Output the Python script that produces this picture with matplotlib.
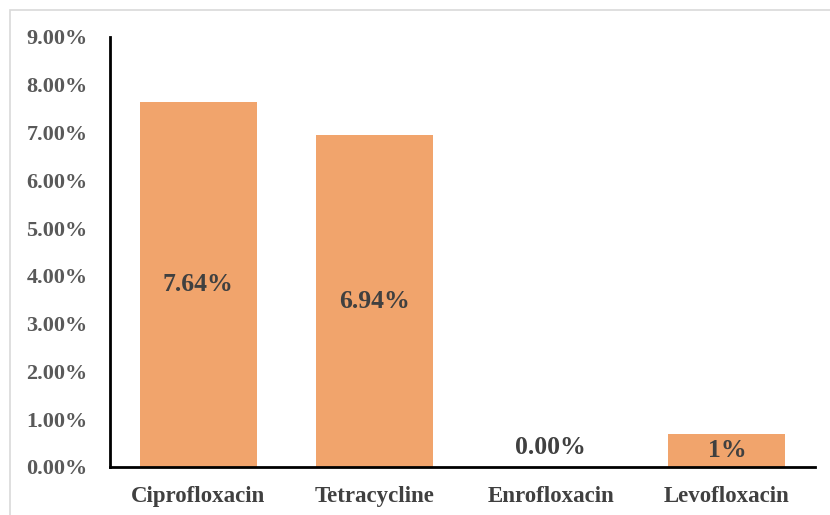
import matplotlib.pyplot as plt
from matplotlib.patches import Rectangle
from matplotlib.ticker import PercentFormatter

# Resistance rates per antibiotic
drugs = ["Ciprofloxacin", "Tetracycline", "Enrofloxacin", "Levofloxacin"]
rates = [7.64, 6.94, 0.00, 0.69]
label_decimals = [2, 2, 2, 0]
y_ticks = [0, 1, 2, 3, 4, 5, 6, 7, 8, 9]

bar_color = "#F1A46C"
tick_color = "#595959"
label_color = "#404040"

plt.rcParams["font.family"] = ["Liberation Serif", "DejaVu Serif"]
plt.rcParams["font.weight"] = "bold"

fig = plt.figure(figsize=(8.3, 5.15), dpi=100)
ax = fig.add_axes([110 / 830, 48 / 515, 705 / 830, 430 / 515])

# light grey frame around the chart area
fig.patches.append(Rectangle((10 / 830, -0.1), 1.2, (505 / 515) + 0.1,
                             transform=fig.transFigure, fill=False,
                             edgecolor="#D9D9D9", linewidth=1.2))

x = list(range(len(drugs)))
bars = ax.bar(x, rates, width=0.665, color=bar_color)

for xi, v, d in zip(x, rates, label_decimals):
    y = v / 2 if v > 0 else 0.40
    ax.text(xi, y, f"{v:.{d}f}%", ha="center", va="center",
            fontsize=18.5, fontweight="bold", color=label_color)

ax.set_xlim(-0.5, len(drugs) - 0.5)
ax.set_ylim(0, 9)
ax.set_yticks(y_ticks)
ax.yaxis.set_major_formatter(PercentFormatter(decimals=2))
ax.set_xticks(x)
ax.set_xticklabels(drugs)

for side in ["top", "right"]:
    ax.spines[side].set_visible(False)
for side in ["left", "bottom"]:
    ax.spines[side].set_linewidth(2)
    ax.spines[side].set_color("black")

ax.tick_params(axis="y", length=0, pad=16, labelsize=16, labelcolor=tick_color)
ax.tick_params(axis="x", length=0, pad=14, labelsize=16.5, labelcolor=label_color)
for lbl in ax.get_xticklabels() + ax.get_yticklabels():
    lbl.set_fontweight("bold")

fig.savefig("out.png", dpi=100, facecolor="white")
